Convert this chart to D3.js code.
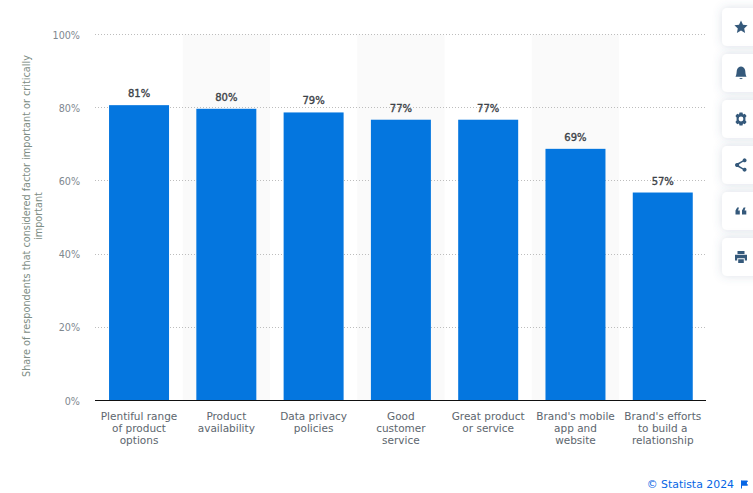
<!DOCTYPE html>
<html>
<head>
  <meta charset="utf-8">
  <script src="https://d3js.org/d3.v7.min.js"></script>
  <style>
    * { margin: 0; padding: 0; }
    html, body { background: #fff; overflow: hidden; }
    svg { display: block; font-family: 'DejaVu Sans', sans-serif; }
    .tick-label { font-size: 9.6px; fill: #80888f; }
    .cat-label { font-size: 10.5px; fill: #5d666e; }
    .value-label { font-size: 10px; fill: #3c4248; stroke: #3c4248; stroke-width: 0.35px; }
    .y-title { font-size: 9.7px; fill: #7d8d84; }
    .credit { font-size: 10.9px; fill: #0666e5; }
  </style>
</head>
<body>
  <svg id="viz" width="753" height="493"></svg>
  <script>
    // chart data
    const categories = [
      ["Plentiful range", "of product", "options"],
      ["Product", "availability"],
      ["Data privacy", "policies"],
      ["Good", "customer", "service"],
      ["Great product", "or service"],
      ["Brand's mobile", "app and", "website"],
      ["Brand's efforts", "to build a", "relationship"]
    ];
    const values = [81, 80, 79, 77, 77, 69, 57];
    const yTicks = [0, 20, 40, 60, 80, 100];
    const yTitle = ["Share of respondents that considered factor important or critically", "important"];

    const svg = d3.select("#viz");

    const x = d3.scaleBand().domain(d3.range(values.length)).range([95.4, 706.4]).paddingInner(27.3 / 87.3).paddingOuter(27.3 / 87.3 / 2);
    //gridlines sit a little higher than the bar scale, same as the original
    const y = d3.scaleLinear().domain([0, 100]).range([400.5, 34.5]);
    const yBar = d3.scaleLinear().domain([0, 100]).range([400, 36]);

    //alternate background stripes
    svg.selectAll("rect.stripe")
      .data(d3.range(values.length).filter(i => i % 2 == 1))
      .enter().append("rect")
      .attr("class", "stripe")
      .attr("x", i => x(i) - x.step() * x.paddingInner() / 2)
      .attr("y", y(100))
      .attr("width", x.step())
      .attr("height", y(0) - y(100))
      .attr("fill", "#fafafa");

    //gridlines
    svg.selectAll("line.grid")
      .data(yTicks.filter(d => d > 0))
      .enter().append("line")
      .attr("class", "grid")
      .attr("x1", 95).attr("x2", 706)
      .attr("y1", d => Math.floor(y(d)) + 0.5).attr("y2", d => Math.floor(y(d)) + 0.5)
      .attr("stroke", "#bdbdbd")
      .attr("stroke-dasharray", "1,2");

    //y labels
    svg.selectAll("text.tick-label")
      .data(yTicks)
      .enter().append("text")
      .attr("class", "tick-label")
      .attr("x", 80)
      .attr("y", d => y(d) + 4)
      .attr("text-anchor", "end")
      .text(d => d + "%");

    //y title
    const title = svg.append("text")
      .attr("class", "y-title")
      .attr("transform", "translate(30,216) rotate(-90)")
      .attr("text-anchor", "middle");
    yTitle.forEach((t, i) => title.append("tspan").attr("x", 0).attr("dy", i ? 12 : 0).text(t));

    //bars
    svg.selectAll("rect.bar")
      .data(values)
      .enter().append("rect")
      .attr("class", "bar")
      .attr("x", (d, i) => x(i))
      .attr("y", d => yBar(d))
      .attr("width", x.bandwidth())
      .attr("height", d => yBar(0) - yBar(d))
      .attr("fill", "#0476df");

    //baseline
    svg.append("line")
      .attr("x1", 95).attr("x2", 706)
      .attr("y1", y(0)).attr("y2", y(0))
      .attr("stroke", "#111")
      .attr("stroke-width", 1);

    //value labels
    svg.selectAll("text.value-label")
      .data(values)
      .enter().append("text")
      .attr("class", "value-label")
      .attr("x", (d, i) => x(i) + x.bandwidth() / 2)
      .attr("y", d => yBar(d) - 8)
      .attr("text-anchor", "middle")
      .text(d => d + "%");

    //category labels
    const cats = svg.selectAll("text.cat-label")
      .data(categories)
      .enter().append("text")
      .attr("class", "cat-label")
      .attr("text-anchor", "middle")
      .attr("y", 420);
    cats.each(function(lines, i) {
      lines.forEach((t, j) => d3.select(this).append("tspan")
        .attr("x", x(i) + x.bandwidth() / 2)
        .attr("dy", j ? 12 : 0)
        .text(t));
    });

    //credit
    svg.append("text")
      .attr("class", "credit")
      .attr("x", 734)
      .attr("y", 488)
      .attr("text-anchor", "end")
      .text("© Statista 2024");
    svg.append("path")
      .attr("d", "M741.5 480.5v8M741.5 481h6l-1.5 2 1.5 2.2h-6z")
      .attr("fill", "#0666e5")
      .attr("stroke", "#0666e5");

    //side buttons
    const icons = [
      "M0-6.5 2-2.2 6.6-1.7 3.2 1.4 4.1 6 0 3.6-4.1 6-3.2 1.4-6.6-1.7-2-2.2Z",
      "M-5.5 3.8C-4.4 2-4.4-1-4.2-2.5-3.8-5.4-1.6-6.5 0-6.5S3.8-5.4 4.2-2.5C4.4-1 4.4 2 5.5 3.8ZM-2 5H2L0 6.2Z",
      "M-1.5-6.5H1.5L2-4.6 3.8-5.3 5.6-3 4.4-1.5 4.4 1.5 5.6 3 3.8 5.3 2 4.6 1.5 6.5H-1.5L-2 4.6-3.8 5.3-5.6 3-4.4 1.5-4.4-1.5-5.6-3-3.8-5.3-2-4.6ZM0-2.4A2.4 2.4 0 1 0 0 2.4 2.4 2.4 0 1 0 0-2.4Z",
      "M-3-1.9A2.1 2.1 0 1 0-3 1.9L1.6 4.4A2 2 0 1 0 2.2 3.2L-1.9.8Q-1.7 0-1.9-.8L2.2-3.2A2 2 0 1 0 1.6-4.4Z",
      "M-5.5 3.5V-0.5L-3.8-3.5H-2L-3-0.5H-1.2V3.5ZM1 3.5V-0.5L2.7-3.5H4.5L3.5-0.5H5.3V3.5Z",
      "M-3.5-6H3.5V-3H-3.5ZM-6-2.2H6V3.5H3.8V1.2H-3.8V3.5H-6ZM-2.8 2.2H2.8V6H-2.8Z"
    ];
    const shadow = svg.append("defs").append("filter")
      .attr("id", "btn-shadow")
      .attr("x", "-50%").attr("y", "-50%").attr("width", "200%").attr("height", "200%");
    shadow.append("feDropShadow")
      .attr("dx", 0).attr("dy", 0).attr("stdDeviation", 5)
      .attr("flood-color", "#51698a").attr("flood-opacity", 0.2);

    icons.forEach((d, i) => {
      const g = svg.append("g").attr("transform", `translate(722,${8 + i * 46})`);
      g.append("rect")
        .attr("width", 45).attr("height", 38).attr("rx", 5)
        .attr("fill", "#fff")
        .attr("filter", "url(#btn-shadow)");
      g.append("path")
        .attr("transform", "translate(19,19)")
        .attr("d", d)
        .attr("fill", "#35597b")
        .attr("fill-rule", "evenodd");
    });
  </script>
</body>
</html>
